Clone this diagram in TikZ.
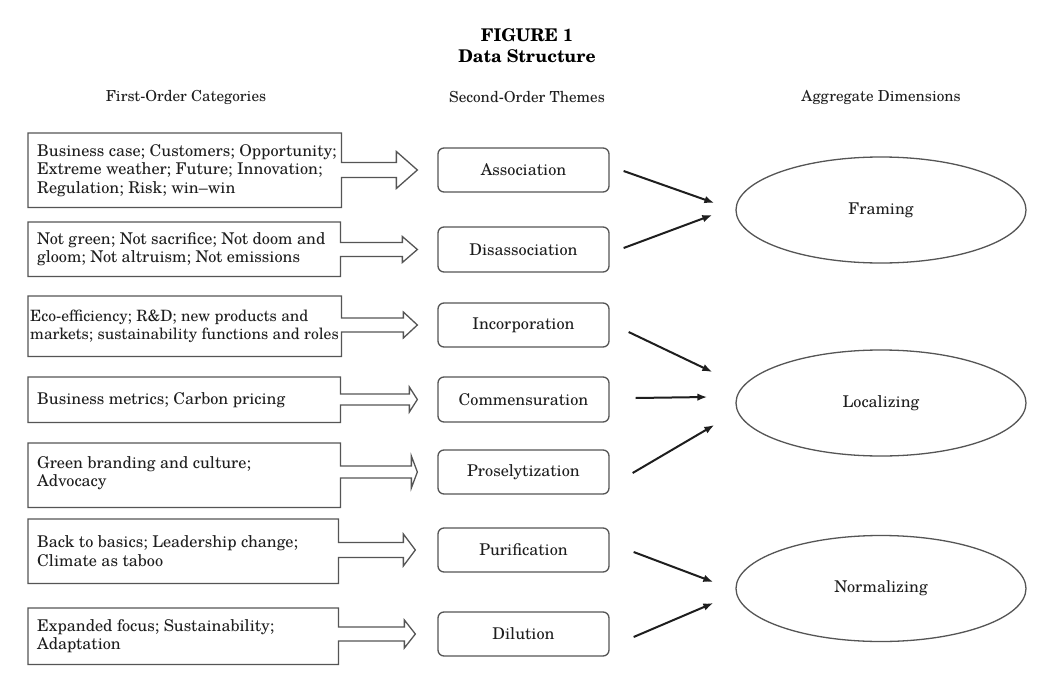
\documentclass[tikz,border=0pt]{standalone}
\usepackage{fontspec}
\setmainfont{texgyreschola}[Extension=.otf, UprightFont=*-regular, BoldFont=*-bold, ItalicFont=*-italic, BoldItalicFont=*-bolditalic]
\usetikzlibrary{shapes.geometric,arrows.meta,calc}
\definecolor{ink}{HTML}{1E1E1E}
\definecolor{edge}{HTML}{555555}
\newcommand\fatarrow[5]{%
  \coordinate (t#1) at ([xshift=-#2pt]th#1.west);
  \coordinate (sa#1) at ($(t#1)+(-#3,-#5)$);
  \coordinate (sb#1) at ($(t#1)+(-#3,#5)$);
  \draw[outl] (c#1.north west) -- (c#1.north east) -- (c#1.east |- sa#1) -- (sa#1)
    -- ($(t#1)+(-#3,-#4)$) -- (t#1) -- ($(t#1)+(-#3,#4)$) -- (sb#1)
    -- (c#1.east |- sb#1) -- (c#1.south east) -- (c#1.south west) -- cycle;}
\begin{document}
\begin{tikzpicture}[x=1pt,y=-1pt,
  body/.style={font=\fontsize{16.2}{18.5}\selectfont, text=ink},
  catbox/.style={draw=none, inner sep=0pt, anchor=north west},
  cattxt/.style={body, align=left, inner sep=0pt, anchor=west},
  thbox/.style={body, draw=edge, line width=1.3pt, rounded corners=6pt, minimum width=171pt, minimum height=44pt, inner sep=0pt},
  dimnode/.style={body, ellipse, draw=edge, line width=1.3pt, minimum width=290pt, minimum height=106pt, inner sep=0pt},
  outl/.style={draw=edge, line width=1.3pt, line join=miter},
  conn/.style={draw=ink, line width=2pt, -{Latex[length=10pt,width=7.5pt]}},
  head/.style={font=\fontsize{15.2}{18}\selectfont, text=ink},
  ttl/.style={font=\fontsize{17.5}{20}\selectfont\bfseries, text=black}]
\useasboundingbox[fill=white] (0,0) rectangle (1050,696);

% titles
\node[ttl] (title1) at (527,35) {FIGURE 1};
\node[ttl] (title2) at (527,56) {Data Structure};
\node[head] (h1) at (186,97) {First-Order Categories};
\node[head] (h2) at (527,97) {Second-Order Themes};
\node[head] (h3) at (881,97) {Aggregate Dimensions};

% second-order themes
\node[thbox] (th1) at (523.5,170) {Association};
\node[thbox, minimum height=45pt] (th2) at (523.5,249.5) {Disassociation};
\node[thbox] (th3) at (523.5,325) {Incorporation};
\node[thbox, minimum height=45pt] (th4) at (523.5,399.5) {Commensuration};
\node[thbox] (th5) at (523.5,472) {Proselytization};
\node[thbox] (th6) at (523.5,550) {Purification};
\node[thbox] (th7) at (523.5,634) {Dilution};

% aggregate dimensions
\node[dimnode] (d1) at (881,210) {Framing};
\node[dimnode] (d2) at (881,403) {Localizing};
\node[dimnode] (d3) at (881,588.5) {Normalizing};

% first-order categories
\node[catbox, minimum width=313pt, minimum height=74pt] (c1) at (28,133) {};
\node[catbox, minimum width=312pt, minimum height=54pt] (c2) at (28,222) {};
\node[catbox, minimum width=313pt, minimum height=60pt] (c3) at (28,296) {};
\node[catbox, minimum width=312pt, minimum height=45pt] (c4) at (28,377) {};
\node[catbox, minimum width=312pt, minimum height=64pt] (c5) at (28,443) {};
\node[catbox, minimum width=310pt, minimum height=64pt] (c6) at (28,519) {};
\node[catbox, minimum width=310pt, minimum height=56pt] (c7) at (28,608) {};

\node[cattxt] (ct1) at ([xshift=9pt]c1.west) {Business case; Customers; Opportunity;\\Extreme weather; Future; Innovation;\\Regulation; Risk; win--win};
\node[cattxt] (ct2) at ([xshift=9pt]c2.west) {Not green; Not sacrifice; Not doom and\\gloom; Not altruism; Not emissions};
\node[cattxt, font=\fontsize{15.6}{18.5}\selectfont] (ct3) at ([xshift=2pt]c3.west) {Eco-efficiency; R\&D; new products and\\markets; sustainability functions and roles};
\node[cattxt] (ct4) at ([xshift=9pt]c4.west) {Business metrics; Carbon pricing};
\node[cattxt] (ct5) at ([xshift=9pt,yshift=2pt]c5.west) {Green branding and culture;\\Advocacy};
\node[cattxt] (ct6) at ([xshift=9pt]c6.west) {Back to basics; Leadership change;\\Climate as taboo};
\node[cattxt] (ct7) at ([xshift=9pt]c7.west) {Expanded focus; Sustainability;\\Adaptation};

% box-and-fat-arrow outlines
\fatarrow{1}{20}{21}{18.5}{7.5}
\fatarrow{2}{20}{15}{13}{7}
\fatarrow{3}{20}{14}{13}{7}
\fatarrow{4}{20}{8}{12.5}{5.5}
\fatarrow{5}{20}{6}{16}{6}
\fatarrow{6}{22}{12}{16}{7.5}
\fatarrow{7}{22}{11}{14}{7}

% connectors
\draw[conn] ($(th1.east)+(14,1)$) -- ($(d1.west)+(-21,-7)$);
\draw[conn] ($(th2.east)+(14,-1.5)$) -- ($(d1.west)+(-23,5)$);
\draw[conn] ($(th3.east)+(19,7)$) -- ($(d2.west)+(-23,-31)$);
\draw[conn] ($(th4.east)+(26,-1.5)$) -- ($(d2.west)+(-28,-6)$);
\draw[conn] ($(th5.east)+(23,1)$) -- ($(d2.west)+(-21,22)$);
\draw[conn] ($(th6.east)+(24,2)$) -- ($(d3.west)+(-22,-6.5)$);
\draw[conn] ($(th7.east)+(24,3)$) -- ($(d3.west)+(-22,14.5)$);
\end{tikzpicture}
\end{document}
